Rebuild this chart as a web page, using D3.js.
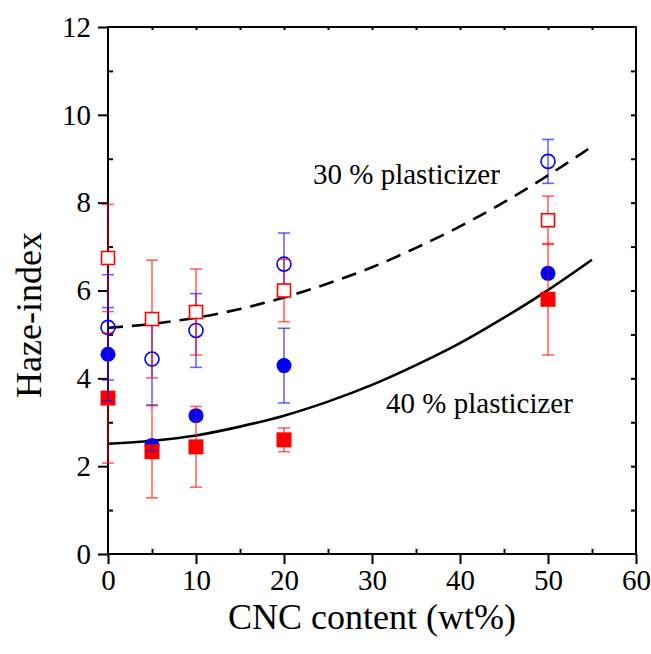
<!DOCTYPE html>
<html>
<head>
<meta charset="utf-8">
<script src="https://cdn.jsdelivr.net/npm/d3@7"></script>
<style>
    body { margin: 0; background: #fff; }
    svg { display: block; font-family: "Liberation Serif", "Times New Roman", serif; }
</style>
</head>
<body>
<svg id="chart"></svg>
<script>
"use strict";

var width = 651,
    height = 654,
    margin = { top: 27, right: 15, bottom: 100, left: 108 };

// CNC content (wt%)
var cnc = [0, 5, 10, 20, 50];

// 30 % plasticizer, open symbols
var openSquare = [6.74, 5.35, 5.51, 6.0, 7.6],
    openSquareErr = [1.22, 1.34, 0.98, 0.71, 0.55],
    openCircle = [5.16, 4.44, 5.09, 6.6, 8.94],
    openCircleErr = [1.2, 1.05, 0.84, 0.71, 0.5];

// 40 % plasticizer, filled symbols
var fillSquare = [3.55, 2.33, 2.44, 2.6, 5.8],
    fillSquareErr = [1.48, 1.05, 0.92, 0.27, 1.27],
    fillCircle = [4.55, 2.47, 3.15, 4.29, 6.39],
    fillCircleErr = [1.06, 0.12, 0.1, 0.85, 0.1];

// trend curves
var curveX = [0, 5, 10, 15, 20, 25, 30, 35, 40, 45, 50, 55],
    curve30 = [5.15, 5.24, 5.38, 5.58, 5.84, 6.16, 6.53, 6.97, 7.46, 8.01, 8.62, 9.28],
    curve40 = [2.51, 2.58, 2.70, 2.90, 3.15, 3.47, 3.85, 4.30, 4.80, 5.38, 6.01, 6.70];

var xTicks = [0, 10, 20, 30, 40, 50, 60],
    yTicks = [0, 2, 4, 6, 8, 10, 12];

var x = d3.scaleLinear().domain([0, 60]).range([margin.left, width - margin.right]);
var y = d3.scaleLinear().domain([0, 12]).range([height - margin.bottom, margin.top]);

var svg = d3.select("#chart")
    .attr("width", width)
    .attr("height", height);

// ---- axes ----
function tidy(g) {
    g.select(".domain").remove();
    g.selectAll(".tick line").attr("stroke", "#000").attr("stroke-width", 2);
    g.selectAll(".tick text").attr("fill", "#000");
}

svg.append("g")
    .attr("transform", "translate(0," + y(0) + ")")
    .call(d3.axisBottom(x).tickValues(xTicks).tickSize(10).tickPadding(5).tickFormat(d3.format("d")))
    .attr("font-size", 29).attr("font-family", null)
    .call(tidy);

svg.append("g")
    .attr("transform", "translate(0," + y(0) + ")")
    .call(d3.axisBottom(x).tickValues(d3.range(5, 60, 10)).tickSize(-5).tickFormat(""))
    .call(tidy);

svg.append("g")
    .attr("transform", "translate(" + x(0) + ",0)")
    .call(d3.axisLeft(y).tickValues(yTicks).tickSize(10).tickPadding(7).tickFormat(d3.format("d")))
    .attr("font-size", 29).attr("font-family", null)
    .call(tidy);

svg.append("g")
    .attr("transform", "translate(" + x(0) + ",0)")
    .call(d3.axisLeft(y).tickValues(d3.range(1, 12, 2)).tickSize(-5).tickFormat(""))
    .call(tidy);

// top and right: small inward ticks
svg.append("g")
    .attr("transform", "translate(0," + y(12) + ")")
    .call(d3.axisTop(x).tickValues(d3.range(5, 60, 5)).tickSize(-3).tickFormat(""))
    .call(tidy);

svg.append("g")
    .attr("transform", "translate(" + x(60) + ",0)")
    .call(d3.axisRight(y).tickValues(d3.range(1, 12, 1)).tickSize(-5).tickFormat(""))
    .call(tidy);

// frame
svg.append("rect")
    .attr("x", x(0))
    .attr("y", y(12))
    .attr("width", x(60) - x(0))
    .attr("height", y(0) - y(12))
    .attr("fill", "none")
    .attr("stroke", "#000")
    .attr("stroke-width", 2);

// axis titles
svg.append("text")
    .attr("x", (x(0) + x(60)) / 2)
    .attr("y", 629)
    .attr("text-anchor", "middle")
    .attr("font-size", 36)
    .text("CNC content (wt%)");

svg.append("text")
    .attr("transform", "translate(41,315) rotate(-90)")
    .attr("text-anchor", "middle")
    .attr("font-size", 36)
    .text("Haze-index");

// ---- trend curves ----
var line = d3.line()
    .x(function (d) { return x(d[0]); })
    .y(function (d) { return y(d[1]); })
    .curve(d3.curveMonotoneX);

svg.append("path")
    .datum(d3.zip(curveX, curve30))
    .attr("d", line)
    .attr("fill", "none")
    .attr("stroke", "#000")
    .attr("stroke-width", 2.6)
    .attr("stroke-dasharray", "15,9");

svg.append("path")
    .datum(d3.zip(curveX, curve40))
    .attr("d", line)
    .attr("fill", "none")
    .attr("stroke", "#000")
    .attr("stroke-width", 2.6);

// ---- data series ----
var capHalf = 6;

function errorBars(vals, errs, color) {
    var g = svg.append("g")
        .attr("stroke", color)
        .attr("stroke-opacity", 0.6)
        .attr("stroke-width", 1.6);
    var data = d3.zip(cnc, vals, errs);
    g.selectAll(".bar")
        .data(data)
        .enter().append("line")
        .attr("x1", function (d) { return x(d[0]); })
        .attr("x2", function (d) { return x(d[0]); })
        .attr("y1", function (d) { return y(d[1] + d[2]); })
        .attr("y2", function (d) { return y(d[1] - d[2]); });
    [1, -1].forEach(function (s) {
        g.selectAll(".cap" + s)
            .data(data)
            .enter().append("line")
            .attr("x1", function (d) { return x(d[0]) - capHalf; })
            .attr("x2", function (d) { return x(d[0]) + capHalf; })
            .attr("y1", function (d) { return y(d[1] + s * d[2]); })
            .attr("y2", function (d) { return y(d[1] + s * d[2]); });
    });
}

function markers(vals, shape, color, filled) {
    var data = d3.zip(cnc, vals);
    var sel = svg.append("g").selectAll(".m").data(data).enter();
    var m;
    if (shape === "circle") {
        m = sel.append("circle")
            .attr("cx", function (d) { return x(d[0]); })
            .attr("cy", function (d) { return y(d[1]); })
            .attr("r", filled ? 7.5 : 7);
    } else {
        var s = filled ? 15 : 13;
        m = sel.append("rect")
            .attr("x", function (d) { return x(d[0]) - s / 2; })
            .attr("y", function (d) { return y(d[1]) - s / 2; })
            .attr("width", s)
            .attr("height", s);
    }
    m.attr("fill", filled ? color : "none")
        .attr("stroke", color)
        .attr("stroke-width", filled ? 0 : 1.6);
    if (!filled && shape === "rect") m.attr("fill", "#fff");
}

errorBars(openCircle, openCircleErr, "#0000ff");
markers(openCircle, "circle", "#0000ff", false);

errorBars(openSquare, openSquareErr, "#ff0000");
markers(openSquare, "rect", "#ff0000", false);

markers(fillCircle, "circle", "#0000ff", true);

errorBars(fillSquare, fillSquareErr, "#ff0000");
markers(fillSquare, "rect", "#ff0000", true);

errorBars(fillCircle, fillCircleErr, "#0000ff");

// ---- curve labels ----
svg.append("text")
    .attr("x", x(23.3))
    .attr("y", y(8.43))
    .attr("font-size", 29)
    .text("30 % plasticizer");

svg.append("text")
    .attr("x", x(31.6))
    .attr("y", y(3.21))
    .attr("font-size", 29)
    .text("40 % plasticizer");
</script>
</body>
</html>
